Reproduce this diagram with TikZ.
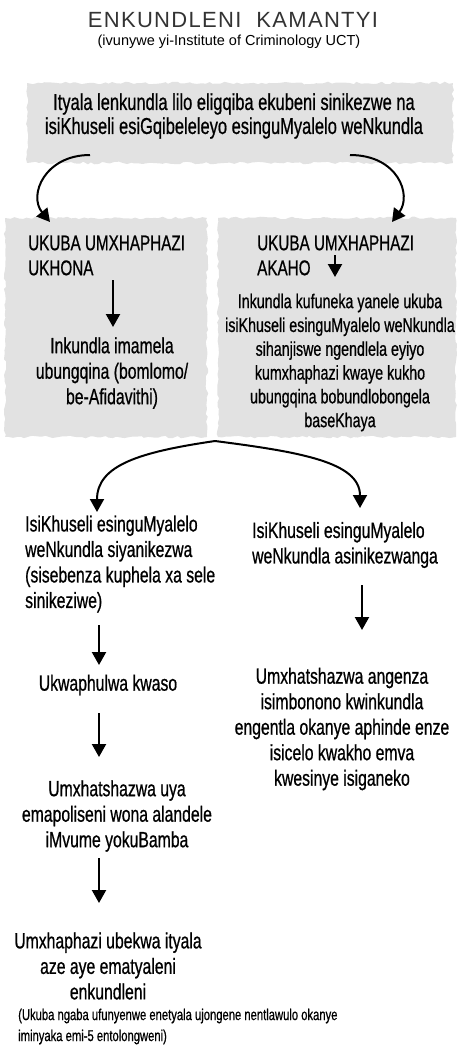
\documentclass[tikz,border=0pt]{standalone}
\usepackage{fontspec}
\setmainfont{Liberation Sans}[FakeStretch=0.716,FakeBold=0.7]
\newfontfamily\titlefont{Liberation Sans}[LetterSpace=6]
\newfontfamily\subfont{Liberation Sans}
\usetikzlibrary{arrows.meta,decorations.pathmorphing}
\definecolor{boxgrey}{RGB}{226,226,226}
\tikzset{
  txt/.style={inner sep=0pt, font=\fontsize{22}{25.5}\selectfont},
  caps/.style={inner sep=0pt, font=\fontsize{21.3}{25}\selectfont},
  small/.style={inner sep=0pt, font=\fontsize{19.9}{23.8}\selectfont},
  arr/.style={line width=2.2pt, -{Triangle[width=14pt,length=13pt]}},
  curv/.style={line width=2pt, -{Triangle[width=14pt,length=13pt]}},
  torn/.style={fill=boxgrey, decorate, decoration={random steps,segment length=4pt,amplitude=1.3pt}}
}
\begin{document}
\begin{tikzpicture}[x=1pt,y=-1pt]
\useasboundingbox (0,0) rectangle (457,1045);
\pgfmathsetseed{7}
% grey boxes
\fill[torn] (27,83) rectangle (453,163);
\fill[torn] (5,218) rectangle (207,437);
\fill[torn] (218,218) rectangle (456,437);
% title
\node[inner sep=0pt, font=\titlefont\fontsize{22}{24}\selectfont, text=black!80] (title) at (233,20) {ENKUNDLENI\ \ KAMANTYI};
\node[inner sep=0pt, font=\subfont\fontsize{14.5}{16}\selectfont] (sub) at (229,42) {(ivunywe yi-Institute of Criminology UCT)};
% top box text
\node[inner sep=0pt, align=center, font=\fontsize{23}{24}\selectfont] (top) at (234,116) {Ityala lenkundla lilo eligqiba ekubeni sinikezwe na\\isiKhuseli esiGqibeleleyo esinguMyalelo weNkundla};
% left box
\node[caps, align=left, anchor=west] (l1) at (28,255.5) {UKUBA UMXHAPHAZI\\UKHONA};
\node[txt, align=center] (l2) at (112,373) {Inkundla imamela\\ubungqina (bomlomo/\\be-Afidavithi)};
% right box
\node[caps, align=left, anchor=west] (r1) at (257,255.5) {UKUBA UMXHAPHAZI\\AKAHO};
\node[small, align=center] (r2) at (340,362.5) {Inkundla kufuneka yanele ukuba\\isiKhuseli esinguMyalelo weNkundla\\sihanjiswe ngendlela eyiyo\\kumxhaphazi kwaye kukho\\ubungqina bobundlobongela\\baseKhaya};
% left column
\node[txt, align=left, anchor=west] (a) at (25,564) {IsiKhuseli esinguMyalelo\\weNkundla siyanikezwa\\(sisebenza kuphela xa sele\\sinikeziwe)};
\node[txt] (b) at (108,685) {Ukwaphulwa kwaso};
\node[txt, align=center] (c) at (117,816) {Umxhatshazwa uya\\emapoliseni wona alandele\\iMvume yokuBamba};
\node[txt, align=center] (d) at (108,966) {Umxhaphazi ubekwa ityala\\aze aye ematyaleni\\enkundleni};
\node[inner sep=0pt, align=left, anchor=west, font=\fontsize{15.7}{21}\selectfont] (e) at (18,1026.5) {(Ukuba ngaba ufunyenwe enetyala ujongene nentlawulo okanye\\iminyaka emi-5 entolongweni)};
% right column
\node[txt, align=left, anchor=west] (f) at (252,545) {IsiKhuseli esinguMyalelo\\weNkundla asinikezwanga};
\node[txt, align=center] (g) at (342,729) {Umxhatshazwa angenza\\isimbonono kwinkundla\\engentla okanye aphinde enze\\isicelo kwakho emva\\kwesinye isiganeko};
% coordinates
\coordinate (tl0) at (90,155);
\coordinate (tl1) at (50,222);
\coordinate (tr0) at (350,155);
\coordinate (tr1) at (392,222);
\coordinate (la0) at (113,280);
\coordinate (la1) at (113,327);
\coordinate (ra0) at (335,255);
\coordinate (ra1) at (335,277);
\coordinate (pk) at (215,441);
\coordinate (bl1) at (97,512);
\coordinate (br1) at (360,508);
\coordinate (ab0) at (99,625);
\coordinate (ab1) at (99,665);
\coordinate (bc0) at (99,713);
\coordinate (bc1) at (99,757);
\coordinate (cd0) at (99,858);
\coordinate (cd1) at (99,903);
\coordinate (fg0) at (362,585);
\coordinate (fg1) at (362,630);
% connectors
\draw[curv] (tl0) .. controls (45,155) and (28,195) .. (tl1);
\draw[curv] (tr0) .. controls (398,155) and (412,195) .. (tr1);
\draw[arr] (la0) -- (la1);
\draw[arr] (ra0) -- (ra1);
\draw[curv] (pk) .. controls (140,452) and (97,465) .. (bl1);
\draw[curv] (pk) .. controls (300,452) and (360,462) .. (br1);
\draw[arr] (ab0) -- (ab1);
\draw[arr] (bc0) -- (bc1);
\draw[arr] (cd0) -- (cd1);
\draw[arr] (fg0) -- (fg1);
\end{tikzpicture}
\end{document}
